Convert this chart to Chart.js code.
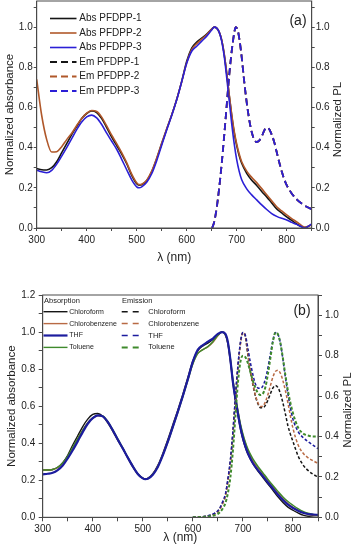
<!DOCTYPE html>
<html>
<head>
<meta charset="utf-8">
<script src="https://cdn.jsdelivr.net/npm/chart.js@4"></script>
<style>
  html, body { margin: 0; padding: 0; background: #fff; }
  canvas { position: absolute; left: 0; }
  #chartA { top: 0; }
  #chartB { top: 270px; }
</style>
</head>
<body>
<canvas id="chartA" width="354" height="270"></canvas>
<canvas id="chartB" width="354" height="280"></canvas>
<script>
// ---- tick labels ----
const xTickLabels = [300, 400, 500, 600, 700, 800];
const yTickLabelsA = [0, 0.2, 0.4, 0.6, 0.8, 1.0];
const yTickLabelsB = [0, 0.2, 0.4, 0.6, 0.8, 1.0, 1.2];
const y2TickLabelsB = [0, 0.2, 0.4, 0.6, 0.8, 1.0];

// ---- panel (a): absorbance ----
const wlAbsA = [300,310,320,330,340,350,360,370,380,390,400,410,420,430,440,450,460,470,480,490,500,505,510,520,530,540,550,560,570,580,590,600,610,620,630,640,650,655,660,665,670,675,680,685,690,695,700,705,710,720,730,740,750,760,770,780,790,800,810,820,830,835,840,850];
const absPFDPP1 = [0.296,0.290,0.289,0.300,0.330,0.375,0.420,0.465,0.505,0.545,0.570,0.583,0.575,0.545,0.500,0.452,0.410,0.368,0.320,0.262,0.220,0.213,0.215,0.235,0.280,0.345,0.420,0.492,0.562,0.640,0.730,0.830,0.895,0.925,0.945,0.965,0.990,1.000,0.995,0.975,0.935,0.865,0.770,0.660,0.560,0.475,0.410,0.360,0.322,0.272,0.238,0.212,0.182,0.155,0.125,0.095,0.075,0.055,0.038,0.020,0.006,0.002,0.004,0.018];
const absPFDPP2 = [0.740,0.560,0.440,0.378,0.380,0.405,0.440,0.472,0.510,0.545,0.572,0.585,0.580,0.552,0.508,0.462,0.420,0.375,0.325,0.268,0.225,0.216,0.218,0.238,0.283,0.348,0.422,0.494,0.563,0.640,0.728,0.822,0.888,0.918,0.940,0.962,0.990,1.000,0.995,0.975,0.935,0.866,0.772,0.665,0.566,0.482,0.418,0.368,0.330,0.283,0.252,0.226,0.196,0.165,0.135,0.106,0.085,0.065,0.047,0.030,0.012,0.005,0.006,0.016];
const absPFDPP3 = [0.288,0.280,0.275,0.287,0.318,0.358,0.400,0.445,0.490,0.528,0.553,0.562,0.548,0.515,0.472,0.432,0.392,0.342,0.290,0.240,0.205,0.200,0.205,0.228,0.270,0.335,0.412,0.488,0.560,0.638,0.728,0.820,0.880,0.905,0.930,0.955,0.986,1.000,0.995,0.975,0.930,0.855,0.750,0.635,0.520,0.420,0.340,0.282,0.240,0.195,0.165,0.140,0.115,0.092,0.072,0.058,0.048,0.040,0.028,0.018,0.006,0.000,0.004,0.020];

// ---- panel (a): emission ----
const wlEmA = [651,655,660,665,670,675,680,685,690,695,698,702,706,710,715,720,725,730,735,740,745,750,755,760,763,766,770,775,780,785,790,795,800,810,820,830,840,850];
const emPFDPP1 = [0.000,0.030,0.100,0.200,0.320,0.460,0.610,0.760,0.880,0.970,1.000,0.985,0.930,0.850,0.730,0.625,0.540,0.478,0.440,0.428,0.435,0.455,0.485,0.500,0.497,0.488,0.465,0.428,0.378,0.328,0.282,0.243,0.213,0.172,0.143,0.122,0.106,0.094];
const emPFDPP2 = [0.000,0.030,0.100,0.200,0.320,0.460,0.610,0.760,0.880,0.970,1.000,0.985,0.930,0.850,0.730,0.625,0.540,0.478,0.440,0.428,0.435,0.455,0.485,0.500,0.497,0.488,0.465,0.428,0.378,0.328,0.282,0.243,0.213,0.172,0.143,0.122,0.106,0.094];
const emPFDPP3 = [0.000,0.030,0.100,0.200,0.320,0.460,0.610,0.760,0.880,0.970,1.000,0.985,0.930,0.850,0.730,0.625,0.540,0.478,0.440,0.428,0.435,0.455,0.485,0.500,0.497,0.488,0.465,0.428,0.378,0.328,0.282,0.243,0.213,0.172,0.143,0.122,0.106,0.094];

// ---- panel (b): absorbance in solvents ----
const wlAbsB = [300,310,320,330,340,350,360,370,380,390,400,410,420,430,440,450,460,470,480,490,500,505,510,520,530,540,550,560,570,580,590,600,610,620,630,640,650,658,665,670,675,680,685,690,695,700,705,710,720,730,740,750,760,770,780,790,800,810,820,830,840,850];
const absChloroform = [0.255,0.255,0.258,0.270,0.295,0.335,0.390,0.440,0.490,0.530,0.555,0.560,0.545,0.510,0.465,0.415,0.370,0.320,0.272,0.232,0.210,0.207,0.210,0.235,0.280,0.345,0.420,0.500,0.580,0.665,0.755,0.845,0.900,0.925,0.940,0.960,0.985,1.000,0.985,0.935,0.840,0.725,0.632,0.552,0.478,0.420,0.375,0.340,0.290,0.250,0.215,0.180,0.145,0.110,0.080,0.055,0.038,0.024,0.012,0.006,0.008,0.010];
const absChlorobenzene = [0.255,0.255,0.258,0.268,0.290,0.325,0.375,0.425,0.470,0.510,0.535,0.548,0.545,0.515,0.470,0.420,0.372,0.322,0.275,0.234,0.212,0.208,0.210,0.232,0.275,0.338,0.410,0.490,0.572,0.655,0.745,0.830,0.885,0.905,0.920,0.945,0.980,1.000,0.985,0.940,0.850,0.740,0.650,0.572,0.500,0.445,0.400,0.362,0.305,0.268,0.235,0.200,0.165,0.130,0.100,0.074,0.054,0.038,0.026,0.018,0.013,0.010];
const absTHF = [0.232,0.235,0.240,0.255,0.280,0.318,0.362,0.410,0.460,0.505,0.535,0.550,0.545,0.515,0.470,0.420,0.372,0.322,0.275,0.234,0.210,0.206,0.208,0.230,0.272,0.335,0.408,0.488,0.570,0.655,0.745,0.840,0.905,0.930,0.948,0.965,0.990,1.000,0.990,0.945,0.850,0.730,0.640,0.560,0.485,0.428,0.383,0.346,0.292,0.255,0.222,0.188,0.155,0.122,0.093,0.068,0.050,0.036,0.025,0.018,0.015,0.013];
const absToluene = [0.255,0.255,0.258,0.270,0.293,0.330,0.378,0.425,0.470,0.510,0.537,0.550,0.547,0.518,0.473,0.423,0.375,0.325,0.277,0.236,0.212,0.207,0.209,0.232,0.273,0.335,0.405,0.485,0.565,0.650,0.740,0.828,0.885,0.905,0.922,0.948,0.982,1.000,0.985,0.945,0.855,0.745,0.655,0.578,0.505,0.450,0.405,0.368,0.315,0.275,0.240,0.205,0.172,0.140,0.110,0.085,0.065,0.047,0.032,0.022,0.016,0.013];

// ---- panel (b): emission in solvents (right axis) ----
const wlEmB = [600,620,630,640,650,655,660,665,670,675,680,685,690,695,700,705,710,715,720,725,730,735,740,745,750,755,760,765,770,775,780,785,790,795,800,810,820,830,840,850];
const emChloroform = [0,0.003,0.007,0.014,0.030,0.048,0.075,0.110,0.185,0.280,0.420,0.590,0.745,0.860,0.915,0.890,0.800,0.720,0.655,0.600,0.562,0.542,0.542,0.555,0.580,0.612,0.640,0.652,0.642,0.612,0.565,0.510,0.452,0.410,0.375,0.305,0.260,0.232,0.213,0.200];
const emChlorobenzene = [0,0.003,0.006,0.013,0.028,0.045,0.070,0.105,0.175,0.270,0.405,0.575,0.735,0.855,0.915,0.895,0.810,0.728,0.660,0.605,0.567,0.548,0.550,0.572,0.608,0.652,0.695,0.722,0.728,0.712,0.675,0.625,0.565,0.500,0.440,0.360,0.318,0.295,0.280,0.267];
const emTHF = [0,0.003,0.008,0.016,0.033,0.052,0.080,0.115,0.190,0.285,0.425,0.595,0.750,0.865,0.915,0.900,0.835,0.765,0.705,0.660,0.640,0.638,0.650,0.685,0.740,0.810,0.875,0.913,0.905,0.860,0.780,0.690,0.610,0.540,0.485,0.425,0.395,0.375,0.357,0.340];
const emToluene = [0,0.002,0.004,0.008,0.017,0.028,0.045,0.070,0.120,0.200,0.330,0.500,0.665,0.770,0.800,0.792,0.762,0.718,0.675,0.640,0.615,0.605,0.612,0.645,0.710,0.790,0.870,0.915,0.905,0.860,0.785,0.700,0.625,0.565,0.515,0.445,0.415,0.405,0.400,0.400];

// ---- styling ----
const fontFamily = "'Liberation Sans', Arial, sans-serif";
const axisColor = "#4a4a4a";
const textColor = "#222";
const cBlack = "#151515";
const cBrownA = "#b0582a";
const cBlueA = "#2b1fd6";
const cBrownB = "#b86a44";
const cBlueB = "#1c1c9e";
const cGreen = "#3f8a2c";

Chart.defaults.font.family = fontFamily;
Chart.defaults.color = textColor;

function pts(xs, ys) {
    return xs.map((x, i) => ({ x: x, y: ys[i] }));
}

function curve(label, xs, ys, color, extra) {
    return Object.assign({
        label: label,
        data: pts(xs, ys),
        borderColor: color,
        backgroundColor: color,
        borderWidth: 1.6,
        pointRadius: 0,
        fill: false,
        cubicInterpolationMode: "monotone"
    }, extra);
}

function hasTick(list, v) {
    return list.some(t => Math.abs(t - v) < 1e-6);
}

function xAxis(height, tickLen, pad, titlePad) {
    return {
        type: "linear", position: "bottom", min: 300, max: 850,
        afterFit: s => { s.height = height; s.paddingLeft = 0; s.paddingRight = 0; },
        grid: { drawOnChartArea: false, tickLength: tickLen, color: axisColor, tickColor: axisColor },
        border: { color: axisColor },
        ticks: {
            stepSize: 50, autoSkip: false, maxRotation: 0, maxTicksLimit: 100, includeBounds: false,
            padding: pad, color: textColor, font: { size: 10 },
            callback: v => hasTick(xTickLabels, v) ? String(v) : ""
        },
        title: { display: true, text: "λ (nm)", color: textColor, font: { size: 12 }, padding: { top: 0, bottom: titlePad } }
    };
}

function yAxis(pos, max, labels, width, tickLen, pad, title, titlePad) {
    return {
        type: "linear", position: pos, min: 0, max: max,
        afterFit: s => { s.width = width; s.paddingTop = 0; s.paddingBottom = 0; },
        grid: { drawOnChartArea: false, tickLength: tickLen, color: axisColor, tickColor: axisColor },
        border: { color: axisColor },
        ticks: {
            stepSize: 0.1, autoSkip: false, maxTicksLimit: 100, includeBounds: false,
            padding: pad, color: textColor, font: { size: 10 },
            callback: v => hasTick(labels, v) ? v.toFixed(1) : ""
        },
        title: title ? { display: true, text: title, color: textColor, font: { size: 11.5 }, padding: { top: titlePad, bottom: 0 } } : { display: false }
    };
}

// frame, panel tag, right axis title (read bottom to top) and legend
const decor = {
    id: "decor",
    afterDatasetsDraw(chart, args, o) {
        const ctx = chart.ctx;
        const a = chart.chartArea;
        ctx.save();
        ctx.strokeStyle = axisColor;
        ctx.lineWidth = 1;
        ctx.strokeRect(a.left, a.top, a.right - a.left, a.bottom - a.top);

        ctx.fillStyle = textColor;
        ctx.textAlign = "center";
        ctx.textBaseline = "middle";
        ctx.font = "14px " + fontFamily;
        ctx.fillText(o.tag, o.tagX, o.tagY);

        ctx.save();
        ctx.translate(o.rightTitleX, (a.top + a.bottom) / 2 + o.rightTitleDy);
        ctx.rotate(-Math.PI / 2);
        ctx.font = "11.5px " + fontFamily;
        ctx.fillText("Normalized PL", 0, 0);
        ctx.restore();

        o.columns.forEach(col => {
            ctx.textAlign = "left";
            if (col.header) {
                ctx.font = col.headerFont + " " + fontFamily;
                ctx.fillStyle = textColor;
                ctx.fillText(col.header, col.headerX, col.headerY);
            }
            const rows = chart.data.datasets.filter(ds => !col.group || ds.group === col.group);
            rows.forEach((ds, i) => {
                const y = col.y0 + i * col.dy;
                ctx.beginPath();
                ctx.setLineDash(ds.borderDash ? (col.dash || ds.borderDash) : []);
                ctx.strokeStyle = ds.borderColor;
                ctx.lineWidth = ds.borderWidth;
                ctx.moveTo(col.x1, y);
                ctx.lineTo(col.x2, y);
                ctx.stroke();
                ctx.setLineDash([]);
                ctx.font = col.font + " " + fontFamily;
                ctx.fillStyle = textColor;
                ctx.fillText(ds.label, col.textX, y);
            });
        });
        ctx.restore();
    }
};

const dashA = [7, 4];
const dashB = [3, 2];

new Chart(document.getElementById("chartA"), {
    type: "line",
    data: {
        datasets: [
            curve("Abs PFDPP-1", wlAbsA, absPFDPP1, cBlack, { order: 6 }),
            curve("Abs PFDPP-2", wlAbsA, absPFDPP2, cBrownA, { order: 5 }),
            curve("Abs PFDPP-3", wlAbsA, absPFDPP3, cBlueA, { order: 4 }),
            curve("Em PFDPP-1", wlEmA, emPFDPP1, cBlack, { yAxisID: "y2", borderDash: dashA, borderWidth: 1.8, order: 3 }),
            curve("Em PFDPP-2", wlEmA, emPFDPP2, cBrownA, { yAxisID: "y2", borderDash: dashA, borderWidth: 1.8, order: 2 }),
            curve("Em PFDPP-3", wlEmA, emPFDPP3, cBlueA, { yAxisID: "y2", borderDash: dashA, borderWidth: 1.8, order: 1 })
        ]
    },
    options: {
        responsive: false,
        animation: false,
        events: [],
        layout: { padding: { top: 1, left: 0, right: 0, bottom: 0 } },
        plugins: {
            legend: { display: false },
            tooltip: { enabled: false },
            decor: {
                tag: "(a)", tagX: 298, tagY: 21,
                rightTitleX: 337.5, rightTitleDy: 5,
                columns: [{ x1: 50, x2: 76.5, textX: 79.3, y0: 18.5, dy: 14.5, font: "10px" }]
            }
        },
        scales: {
            x: xAxis(42, 3, 3, 5),
            y: yAxis("left", 1.13, yTickLabelsA, 36.7, 3, 1, "Normalized absorbance", 3),
            y2: yAxis("right", 1.13, yTickLabelsA, 42.3, 3, 1, null, 0)
        }
    },
    plugins: [decor]
});

new Chart(document.getElementById("chartB"), {
    type: "line",
    data: {
        datasets: [
            curve("Chloroform", wlAbsB, absChloroform, cBlack, { group: "abs", borderWidth: 1.4, order: 8 }),
            curve("Chlorobenzene", wlAbsB, absChlorobenzene, cBrownB, { group: "abs", borderWidth: 1.4, order: 7 }),
            curve("THF", wlAbsB, absTHF, cBlueB, { group: "abs", borderWidth: 2.2, order: 5 }),
            curve("Toluene", wlAbsB, absToluene, cGreen, { group: "abs", borderWidth: 1.4, order: 6 }),
            curve("Chloroform", wlEmB, emChloroform, cBlack, { group: "em", yAxisID: "y2", borderDash: dashB, borderWidth: 1.5, order: 4 }),
            curve("Chlorobenzene", wlEmB, emChlorobenzene, cBrownB, { group: "em", yAxisID: "y2", borderDash: dashB, borderWidth: 1.5, order: 3 }),
            curve("THF", wlEmB, emTHF, cBlueB, { group: "em", yAxisID: "y2", borderDash: dashB, borderWidth: 1.5, order: 2 }),
            curve("Toluene", wlEmB, emToluene, cGreen, { group: "em", yAxisID: "y2", borderDash: dashB, borderWidth: 2, order: 1 })
        ]
    },
    options: {
        responsive: false,
        animation: false,
        events: [],
        layout: { padding: { top: 25, left: 0, right: 0, bottom: 0 } },
        plugins: {
            legend: { display: false },
            tooltip: { enabled: false },
            decor: {
                tag: "(b)", tagX: 302, tagY: 41,
                rightTitleX: 347.5, rightTitleDy: 4,
                columns: [
                    { group: "abs", header: "Absorption", headerX: 44, headerY: 30.7, headerFont: "7.5px",
                      x1: 43.5, x2: 67.5, textX: 69.3, y0: 41.7, dy: 11.9, font: "7px" },
                    { group: "em", header: "Emission", headerX: 122, headerY: 30.5, headerFont: "7.5px",
                      x1: 121.7, x2: 140, textX: 148.3, y0: 41.7, dy: 11.9, font: "7.5px", dash: [6, 5] }
                ]
            }
        },
        scales: {
            x: xAxis(32.7, 4, 2, 5),
            y: yAxis("left", 1.2, yTickLabelsB, 42.7, 4, 3.5, "Normalized absorbance", 5.4),
            y2: yAxis("right", 1.1, y2TickLabelsB, 36, 4, 3, null, 0)
        }
    },
    plugins: [decor]
});
</script>
</body>
</html>
